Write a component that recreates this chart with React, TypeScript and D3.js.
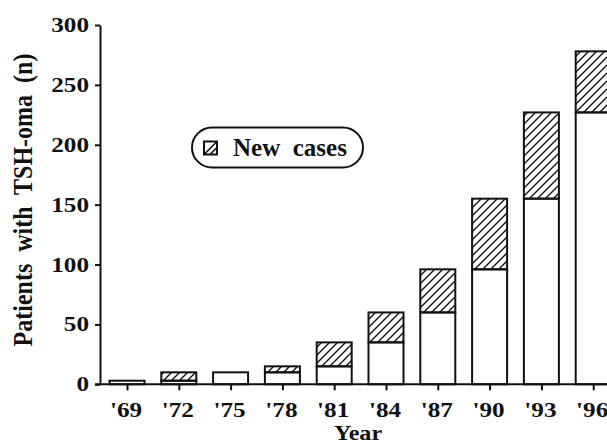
import React, { useEffect, useRef } from "react";
import * as d3 from "d3";

// Cumulative TSH-oma patients by survey year
const years = ["'69", "'72", "'75", "'78", "'81", "'84", "'87", "'90", "'93", "'96"];
const previousCases = [3, 3, 10, 10, 15, 35, 60, 96, 155, 227];
const newCases = [0, 7, 0, 5, 20, 25, 36, 59, 72, 51];
const yTicks = [0, 50, 100, 150, 200, 250, 300];

const W = 607;
const H = 444;
const FONT = "'Liberation Serif', 'Times New Roman', serif";

export default function App() {
  const ref = useRef<SVGSVGElement | null>(null);

  useEffect(() => {
    const svg = d3.select(ref.current);
    svg.selectAll("*").remove();

    const x = d3.scalePoint<string>().domain(years).range([127, 593.2]);
    const y = d3.scaleLinear().domain([0, 300]).range([384.3, 25]);
    const barW = 35;

    const defs = svg.append("defs");
    const pat = defs
      .append("pattern")
      .attr("id", "hatch")
      .attr("patternUnits", "userSpaceOnUse")
      .attr("width", 8)
      .attr("height", 8);
    pat
      .append("path")
      .attr("d", "M-2,2 L2,-2 M0,8 L8,0 M6,10 L10,6")
      .attr("stroke", "#111")
      .attr("stroke-width", 1.4);

    const data = years.map((yr, i) => ({
      yr,
      prev: previousCases[i],
      add: newCases[i],
    }));

    // Bars: earlier cases (white) stacked under new cases (hatched)
    const g = svg.append("g");
    data.forEach((d) => {
      const cx = x(d.yr)!;
      if (d.prev > 0) {
        g.append("rect")
          .attr("x", cx - barW / 2)
          .attr("y", y(d.prev))
          .attr("width", barW)
          .attr("height", y(0) - y(d.prev))
          .attr("fill", "#fff")
          .attr("stroke", "#111")
          .attr("stroke-width", 2);
      }
      if (d.add > 0) {
        g.append("rect")
          .attr("x", cx - barW / 2)
          .attr("y", y(d.prev + d.add))
          .attr("width", barW)
          .attr("height", y(d.prev) - y(d.prev + d.add))
          .attr("fill", "url(#hatch)")
          .attr("stroke", "#111")
          .attr("stroke-width", 2);
      }
    });

    const textStyle = (sel: any, size: number) =>
      sel
        .attr("font-family", FONT)
        .attr("font-weight", "bold")
        .attr("font-size", size)
        .attr("fill", "#111");

    // Y axis
    const yAxis = svg
      .append("g")
      .attr("transform", "translate(100,0)")
      .call(d3.axisLeft(y).tickValues(yTicks).tickSize(5).tickSizeOuter(0).tickFormat(d3.format("d")));
    yAxis.select(".domain").attr("stroke", "#111").attr("stroke-width", 2);
    yAxis.selectAll(".tick line").attr("stroke", "#111").attr("stroke-width", 2);
    yAxis.selectAll(".tick text").remove();
    yTicks.forEach((t) => {
      textStyle(
        svg
          .append("text")
          .attr("transform", `translate(89,${y(t) + 7}) scale(1.2,1)`)
          .attr("text-anchor", "end")
          .text(String(t)),
        21
      );
    });

    // X axis
    const xAxis = svg
      .append("g")
      .attr("transform", `translate(0,${y(0)})`)
      .call(d3.axisBottom(x).tickSize(6).tickSizeOuter(0));
    xAxis.select(".domain").attr("d", `M95,0H${W}`).attr("stroke", "#111").attr("stroke-width", 2);
    xAxis.selectAll(".tick line").attr("stroke", "#111").attr("stroke-width", 2);
    xAxis.selectAll(".tick text").remove();
    years.forEach((yr) => {
      textStyle(
        svg
          .append("text")
          .attr("transform", `translate(${x(yr)! - 1},417) scale(1.2,1)`)
          .attr("text-anchor", "middle")
          .text(yr),
        21
      );
    });

    // Axis titles
    textStyle(
      svg
        .append("text")
        .attr("transform", "translate(358,440) scale(1.15,1)")
        .attr("text-anchor", "middle")
        .text("Year"),
      21
    );
    textStyle(
      svg
        .append("text")
        .attr("transform", "translate(32,200) rotate(-90) scale(1,1.1)")
        .attr("text-anchor", "middle")
        .style("white-space", "pre")
        .text("Patients  with  TSH-oma  (n)"),
      24
    );

    // Legend
    const lg = svg.append("g");
    lg.append("rect")
      .attr("x", 192)
      .attr("y", 127.5)
      .attr("width", 171)
      .attr("height", 40)
      .attr("rx", 20)
      .attr("fill", "#fff")
      .attr("stroke", "#111")
      .attr("stroke-width", 2);
    lg.append("rect")
      .attr("x", 204)
      .attr("y", 141.5)
      .attr("width", 13)
      .attr("height", 13)
      .attr("fill", "#fff")
      .attr("stroke", "#111")
      .attr("stroke-width", 2);
    lg.append("path")
      .attr("d", "M204,154.5 L217,141.5 M210,154.5 L217,147.5")
      .attr("stroke", "#111")
      .attr("stroke-width", 1.6);
    textStyle(
      lg
        .append("text")
        .attr("x", 233)
        .attr("y", 156)
        .style("white-space", "pre")
        .text("New  cases"),
      25
    );
  }, []);

  return (
    <svg
      ref={ref}
      width={W}
      height={H}
      style={{ position: "absolute", left: 0, top: 0, background: "#fff" }}
    />
  );
}
